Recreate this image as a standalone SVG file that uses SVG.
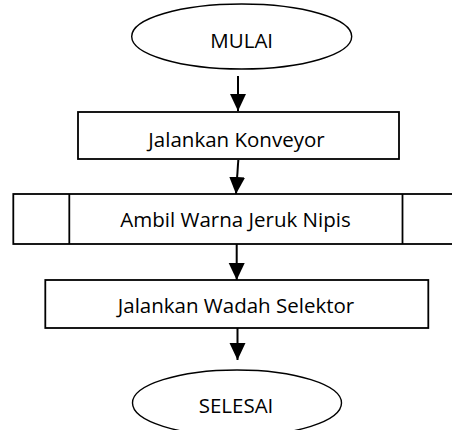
<svg xmlns="http://www.w3.org/2000/svg" width="452" height="430" viewBox="0 0 452 430">
<style>
.shape{fill:#fff;stroke:#000;stroke-width:1.8}
.term{fill:#fff;stroke:#000;stroke-width:1.4}
.lbl{font-family:"Open Sans","Noto Sans",sans-serif;font-size:20.5px;fill:#000;text-anchor:middle}
.conn{stroke:#000;stroke-width:2;fill:none;marker-end:url(#ah)}
</style>
<defs>
<marker id="ah" markerUnits="userSpaceOnUse" markerWidth="17" markerHeight="18" viewBox="0 0 17 16" refX="17" refY="8" orient="auto">
<path d="M0,0 L17,8 L0,16 Z" fill="#000"/>
</marker>
</defs>
<g id="start">
<ellipse class="term" cx="241.7" cy="36.5" rx="110" ry="32.5"/>
<text class="lbl" x="241.7" y="48">MULAI</text>
</g>
<g id="konveyor">
<rect class="shape" x="78" y="112" width="321" height="47"/>
<text class="lbl" x="236.5" y="146.5">Jalankan Konveyor</text>
</g>
<g id="warna">
<rect class="shape" x="13.3" y="194" width="460" height="50"/>
<line class="shape" x1="69.3" y1="194" x2="69.3" y2="244"/>
<line class="shape" x1="402.5" y1="194" x2="402.5" y2="244"/>
<text class="lbl" x="235.5" y="227.3">Ambil Warna Jeruk Nipis</text>
</g>
<g id="wadah">
<rect class="shape" x="45.3" y="280" width="383" height="48"/>
<text class="lbl" x="236" y="312.7">Jalankan Wadah Selektor</text>
</g>
<g id="end">
<ellipse class="term" cx="237" cy="403" rx="104.5" ry="33"/>
<text class="lbl" x="236" y="413.3">SELESAI</text>
</g>
<g id="connectors">
<line class="conn" x1="238" y1="76" x2="238" y2="111"/>
<line class="conn" x1="238.3" y1="160" x2="236" y2="194"/>
<line class="conn" x1="236.7" y1="244" x2="236.7" y2="280"/>
<line class="conn" x1="237.5" y1="328" x2="237.5" y2="360"/>
</g>
</svg>
